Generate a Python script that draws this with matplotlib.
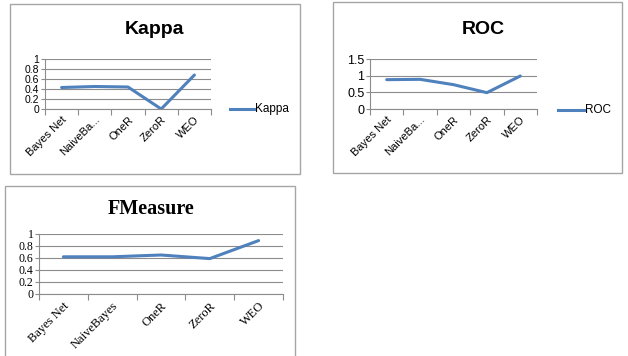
import matplotlib.pyplot as plt
from matplotlib.patches import Rectangle
from matplotlib.lines import Line2D

W, H = 628, 356

models_short = ['Bayes Net', 'NaiveBa...', 'OneR', 'ZeroR', 'WEO']
models_full = ['Bayes Net', 'NaiveBayes', 'OneR', 'ZeroR', 'WEO']
kappa = [0.43, 0.45, 0.44, 0.0, 0.68]
roc = [0.88, 0.89, 0.73, 0.49, 0.99]
fmeasure = [0.62, 0.62, 0.65, 0.59, 0.89]

LINE = '#4F81BD'
GRID = '#8c8c8c'

fig = plt.figure(figsize=(W / 100, H / 100), dpi=100)
fig.patch.set_facecolor('white')


def box(x0, y0, x1, y1):
    return [x0 / W, 1 - y1 / H, (x1 - x0) / W, (y1 - y0) / H]


def frame(x0, y0, x1, y1):
    fig.patches.append(Rectangle((x0 / W, 1 - y1 / H), (x1 - x0) / W, (y1 - y0) / H,
                                 transform=fig.transFigure, fill=False,
                                 edgecolor='#a6a6a6', lw=1.0))


def panel(rect, values, labels, yticks, ylabels, family, ysize, xsize):
    ax = fig.add_axes(box(*rect))
    ax.plot(range(len(values)), values, color=LINE, lw=2.2, solid_capstyle='round')
    ax.set_xlim(-0.5, len(values) - 0.5)
    ax.set_ylim(yticks[0], yticks[-1])
    ax.set_yticks(yticks)
    ax.set_yticklabels(ylabels, family=family, fontsize=ysize)
    ax.yaxis.grid(True, color=GRID, lw=0.8)
    ax.set_axisbelow(True)
    ax.set_xticks([i - 0.5 for i in range(len(values) + 1)])
    ax.set_xticklabels([])
    ax.set_xticks(range(len(values)), minor=True)
    ax.set_xticklabels(labels, minor=True, rotation=45, ha='right',
                       rotation_mode='anchor', family=family, fontsize=xsize)
    ax.tick_params(axis='x', which='minor', length=0, pad=4)
    ax.tick_params(axis='x', which='major', length=4, color=GRID, direction='out')
    ax.tick_params(axis='y', length=3, color=GRID, pad=1)
    for s in ['top', 'right']:
        ax.spines[s].set_visible(False)
    for s in ['left', 'bottom']:
        ax.spines[s].set_color(GRID)
        ax.spines[s].set_linewidth(0.8)
    return ax


# Kappa
frame(10, 4, 300, 174)
panel((45, 59, 211, 109), kappa, models_short, [0, 0.2, 0.4, 0.6, 0.8, 1.0],
      ['0', '0.2', '0.4', '0.6', '0.8', '1'], 'Liberation Sans', 7.5, 8)
fig.text(154 / W, 1 - 29 / H, 'Kappa', ha='center', va='center',
         fontsize=14, weight='bold', family='Liberation Sans')
fig.lines.append(Line2D([230 / W, 255 / W], [1 - 109 / H] * 2, color=LINE, lw=2.2,
                        transform=fig.transFigure))
fig.text(255 / W, 1 - 109 / H, 'Kappa', ha='left', va='center', fontsize=8.5,
         family='Liberation Sans')

# ROC
frame(333, 2, 622, 173)
panel((370, 59, 537, 109), roc, models_short, [0, 0.5, 1.0, 1.5],
      ['0', '0.5', '1', '1.5'], 'Liberation Sans', 9, 8)
fig.text(483 / W, 1 - 29 / H, 'ROC', ha='center', va='center',
         fontsize=14, weight='bold', family='Liberation Sans')
fig.lines.append(Line2D([558 / W, 585 / W], [1 - 110 / H] * 2, color=LINE, lw=2.2,
                        transform=fig.transFigure))
fig.text(585 / W, 1 - 110 / H, 'ROC', ha='left', va='center', fontsize=8.5,
         family='Liberation Sans')

# FMeasure
frame(5, 186, 295, 360)
panel((39, 234, 283, 294), fmeasure, models_full, [0, 0.2, 0.4, 0.6, 0.8, 1.0],
      ['0', '0.2', '0.4', '0.6', '0.8', '1'], 'Liberation Serif', 8.5, 9)
fig.text(151 / W, 1 - 209 / H, 'FMeasure', ha='center', va='center',
         fontsize=14.5, weight='bold', family='Liberation Serif')

fig.savefig('out.png', dpi=100)
